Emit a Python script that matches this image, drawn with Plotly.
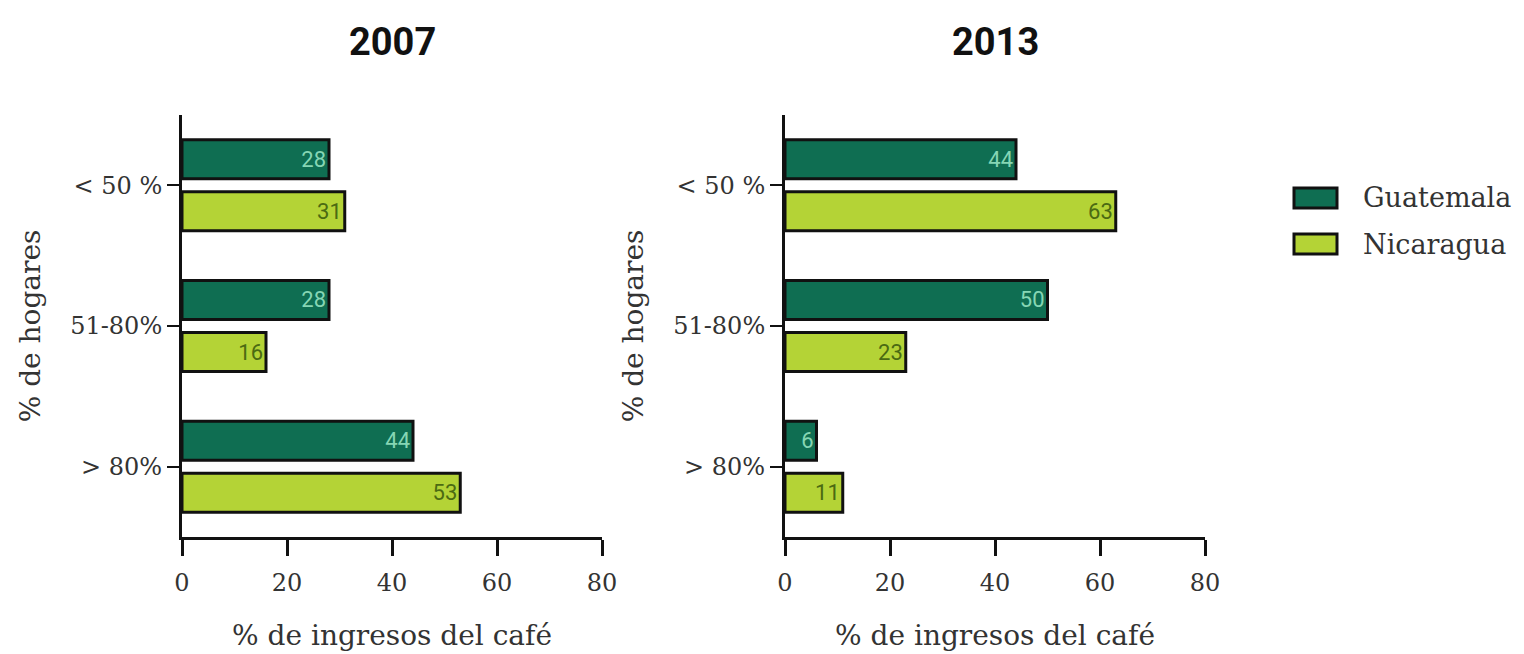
import plotly.graph_objects as go

# Data: share of households by share of income coming from coffee
categories = ["< 50 %", "51-80%", "> 80%"]
guatemala_2007 = [28, 28, 44]
nicaragua_2007 = [31, 16, 53]
guatemala_2013 = [44, 50, 6]
nicaragua_2013 = [63, 23, 11]
x_ticks = [0, 20, 40, 60, 80]
years = ["2007", "2013"]
countries = ["Guatemala", "Nicaragua"]

GUA_FILL = "#0f6e52"
NIC_FILL = "#b4d336"
GUA_TEXT = "#86d6b4"
NIC_TEXT = "#4b6a12"
SERIF = "DejaVu Serif"
LABEL = "#333333"

W, H = 1524, 654

fig = go.Figure()

panels = [
    ("x", "y", guatemala_2007, nicaragua_2007),
    ("x2", "y2", guatemala_2013, nicaragua_2013),
]
for xa, ya, gua, nic in panels:
    for name, vals, fill, tcol in [
        (countries[0], gua, GUA_FILL, GUA_TEXT),
        (countries[1], nic, NIC_FILL, NIC_TEXT),
    ]:
        fig.add_trace(go.Bar(
            y=categories, x=vals, orientation="h", name=name,
            xaxis=xa, yaxis=ya, showlegend=False,
            marker=dict(color=fill, line=dict(color="#111111", width=3)),
            text=[str(v) for v in vals], textposition="inside",
            insidetextanchor="end", constraintext="none",
            textfont=dict(family="Roboto", size=22, color=tcol),
            cliponaxis=False,
        ))

x_domains = [[182 / W, 602 / W], [785 / W, 1205 / W]]
y_domain = [(H - 537) / H, (H - 115) / H]

common_x = dict(
    range=[0, 80], tickvals=x_ticks, ticks="outside", ticklen=16, tickwidth=3,
    tickcolor="#111111", showline=True, linewidth=3, linecolor="#111111",
    showgrid=False, zeroline=False, fixedrange=True,
    tickfont=dict(family=SERIF, size=24, color=LABEL), ticklabelstandoff=6,
    title=dict(text="% de ingresos del café", standoff=30,
               font=dict(family=SERIF, size=28, color=LABEL)),
    automargin=False,
)
common_y = dict(
    type="category", categoryorder="array", categoryarray=categories,
    range=[2.5, -0.5], ticks="outside", ticklen=12, tickwidth=2,
    tickcolor="#111111", showline=True, linewidth=3, linecolor="#111111",
    showgrid=False, zeroline=False, fixedrange=True,
    tickfont=dict(family=SERIF, size=24, color=LABEL),
    title=dict(text="% de hogares", standoff=22,
               font=dict(family=SERIF, size=28, color=LABEL)),
    automargin=False, domain=y_domain,
)

fig.update_layout(
    width=W, height=H,
    margin=dict(l=0, r=0, t=0, b=0),
    paper_bgcolor="white", plot_bgcolor="white",
    barmode="group", bargap=0.26, bargroupgap=0.25,
    xaxis=dict(common_x, domain=x_domains[0], anchor="y"),
    xaxis2=dict(common_x, domain=x_domains[1], anchor="y2"),
    yaxis=dict(common_y, anchor="x"),
    yaxis2=dict(common_y, anchor="x2"),
)

# Panel titles
for dom, yr in zip(x_domains, years):
    fig.add_annotation(
        x=(dom[0] + dom[1]) / 2, y=1 - 42 / H, xref="paper", yref="paper",
        text=f"<b>{yr}</b>", showarrow=False, xanchor="center", yanchor="middle",
        font=dict(family="Roboto", size=38, color="#111111"),
    )

# Legend drawn as swatches with labels
legend_items = [(countries[0], GUA_FILL, 198), (countries[1], NIC_FILL, 244)]
for name, fill, yc in legend_items:
    fig.add_shape(
        type="rect", xref="paper", yref="paper",
        x0=1294 / W, x1=1337 / W, y0=1 - (yc + 10) / H, y1=1 - (yc - 10) / H,
        fillcolor=fill, line=dict(color="#111111", width=3),
    )
    fig.add_annotation(
        x=1361 / W, y=1 - yc / H, xref="paper", yref="paper",
        text=name, showarrow=False, xanchor="left", yanchor="middle",
        font=dict(family=SERIF, size=27, color=LABEL),
    )

fig.write_html("out.html")
